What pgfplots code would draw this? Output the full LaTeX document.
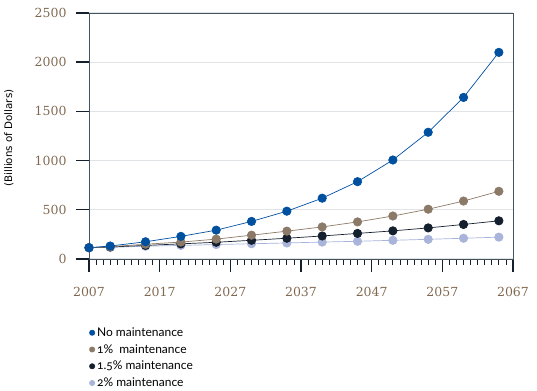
\documentclass[border=0pt]{standalone}
\usepackage{fontspec}
\usepackage{pgfplots}
\pgfplotsset{compat=1.18}
\newfontfamily\legfont[Numbers=OldStyle]{Lato}
\newfontfamily\labfont{DejaVu Sans}
\newfontfamily\tickfont{DejaVu Serif}
\definecolor{cBlue}{RGB}{0,80,160}
\definecolor{cBrown}{RGB}{140,122,104}
\definecolor{cBlack}{RGB}{20,32,46}
\definecolor{cLight}{RGB}{168,180,218}
\definecolor{cTick}{RGB}{128,104,80}
\definecolor{cAxis}{RGB}{70,82,92}
\definecolor{cGrid}{RGB}{225,228,231}
\begin{document}
\begin{tikzpicture}
\begin{axis}[
  name=ax,
  scale only axis,
  width=424pt, height=246pt,
  xmin=2007, xmax=2067, ymin=0, ymax=2500,
  xtick={2007,2017,...,2067},
  ytick={0,500,...,2500},
  minor x tick num=9,
  tick align=outside,
  xtick pos=bottom, ytick pos=left,
  major tick length=13pt, minor tick length=6pt,
  every major tick/.style={cBlack, line width=1.4pt},
  every minor tick/.style={cBlack, line width=0.8pt},
  axis line style={cAxis, line width=0.8pt},
  ymajorgrids,
  grid style={cGrid, line width=1.3pt},
  /pgf/number format/assume math mode=true,
  /pgf/number format/1000 sep={},
  ticklabel style={font=\tickfont\fontsize{12.5}{14}\selectfont, text=cTick},
  xticklabel style={yshift=-12pt},
  yticklabel style={xshift=-6pt},
  legend style={at={(axis description cs:0.0,-0.27)}, anchor=north west, draw=none, fill=none,
    font=\legfont\fontsize{12}{14}\selectfont, inner sep=0pt, row sep=2.5pt},
  legend cell align=left,
  reverse legend,
  legend image code/.code={\fill[#1] (0.06cm,0cm) circle (2.6pt);},
  every axis plot/.append style={line width=0.7pt, mark=*, mark size=4.2pt},
]
\addplot[color=cLight] coordinates {
(2007,115)(2010,118)(2015,130)(2020,138)(2025,147)(2030,155)(2035,163)(2040,172)(2045,180)(2050,190)(2055,200)(2060,211)(2065,222)};
\addlegendentry{2\% maintenance}
\addplot[color=cBlack] coordinates {
(2007,115)(2010,122)(2015,138)(2020,154)(2025,170)(2030,190)(2035,211)(2040,234)(2045,260)(2050,286)(2055,316)(2060,351)(2065,388)};
\addlegendentry{1.5\% maintenance}
\addplot[color=cBrown] coordinates {
(2007,115)(2010,125)(2015,150)(2020,172)(2025,202)(2030,242)(2035,283)(2040,326)(2045,377)(2050,437)(2055,506)(2060,589)(2065,688)};
\addlegendentry{1\%\ \ maintenance}
\addplot[color=cBlue] coordinates {
(2007,115)(2010,132)(2015,175)(2020,230)(2025,293)(2030,382)(2035,486)(2040,618)(2045,786)(2050,1006)(2055,1288)(2060,1642)(2065,2100)};
\addlegendentry{No maintenance}
\end{axis}
\node[rotate=90, anchor=north, inner sep=0pt, font=\labfont\fontsize{10.3}{12}\selectfont] at ([shift={(-85pt,-2pt)}]ax.west) {(Billions of Dollars)};
\pgfresetboundingbox
\path[use as bounding box] ([shift={(-89pt,-132pt)}]ax.south west) rectangle ([shift={(24pt,13pt)}]ax.north east);
\end{tikzpicture}
\end{document}
